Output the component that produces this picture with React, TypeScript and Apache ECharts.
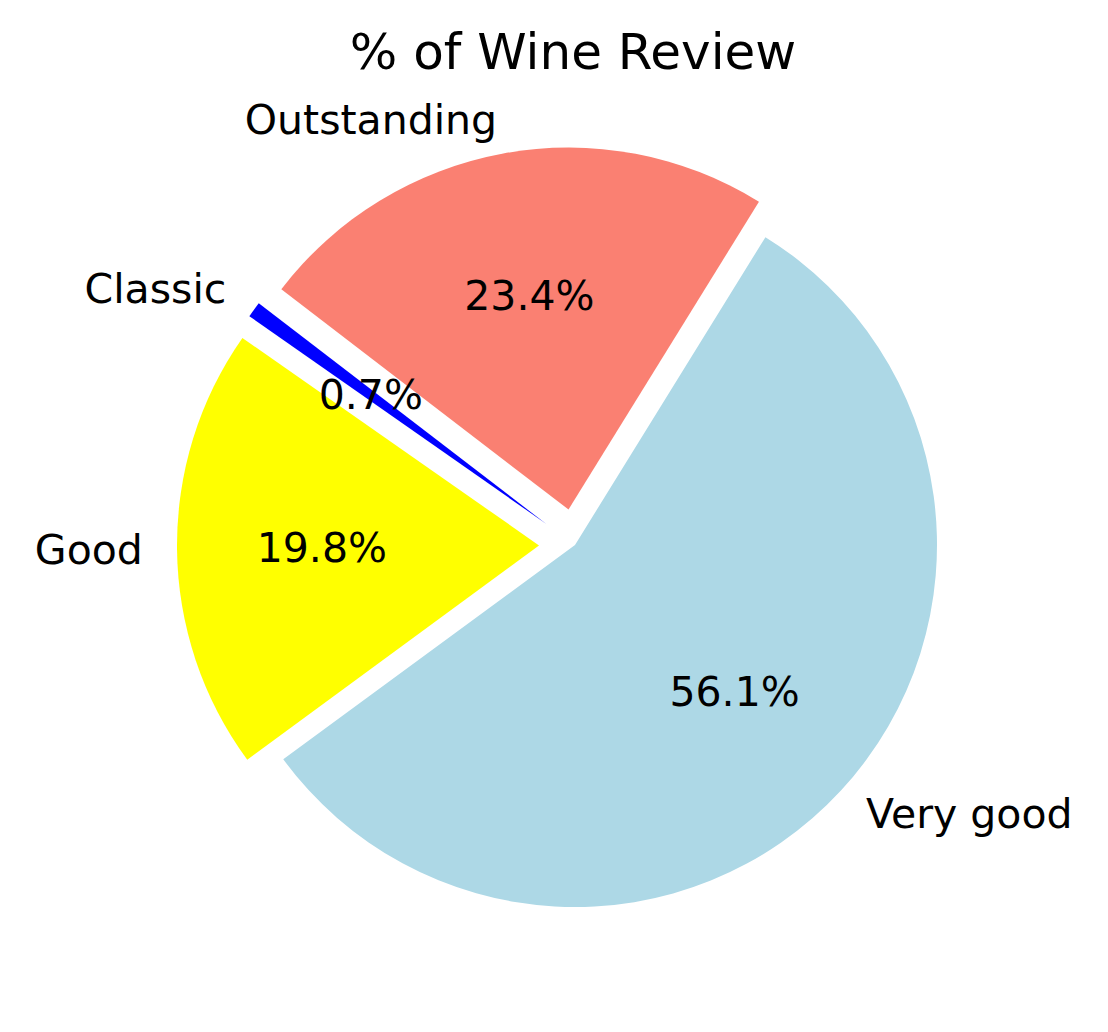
import React, { useEffect, useRef } from "react";
import * as echarts from "echarts";

const categories = ["Classic", "Good", "Very good", "Outstanding"];
const percents = [0.7, 19.8, 56.1, 23.4];
const colors = ["#0000FF", "#FFFF00", "#ADD8E6", "#FA8072"];
const exploded = [true, true, false, true];
const titleText = "% of Wine Review";

const CX = 575;
const CY = 545;
const R = 362;
const OFFSET = 36;
const FONT = "DejaVu Sans";

export default function App() {
  const ref = useRef<HTMLDivElement>(null);
  useEffect(() => {
    if (!ref.current) return;
    const chart = echarts.init(ref.current, undefined, { renderer: "svg" });
    const baseData = categories.map((name, i) => ({
      name,
      value: percents[i],
      selected: exploded[i],
      itemStyle: { color: colors[i] },
    }));
    const transData = categories.map((name, i) => ({
      name,
      value: percents[i],
      selected: exploded[i],
      itemStyle: { color: "rgba(0,0,0,0)" },
    }));
    const innerR0 = 2 * (0.6 * R - 3) - R;
    chart.setOption({
      animation: false,
      backgroundColor: "#ffffff",
      title: {
        text: titleText,
        left: 568,
        top: 22,
        textAlign: "center",
        textStyle: { fontFamily: FONT, fontSize: 50, fontWeight: "normal", color: "#000" },
      },
      series: [
        {
          type: "pie",
          center: [CX, CY],
          radius: R,
          startAngle: 142.5,
          clockwise: false,
          selectedMode: "multiple",
          selectedOffset: OFFSET,
          avoidLabelOverlap: false,
          silent: true,
          label: {
            show: true,
            position: "outside",
            formatter: "{b}",
            fontFamily: FONT,
            fontSize: 41,
            color: "#000",
            distanceToLabelLine: 0,
          },
          labelLine: { show: false, length: 0.1 * R - 2, length2: 0 },
          emphasis: { disabled: true },
          data: baseData,
        },
        {
          type: "pie",
          center: [CX, CY],
          radius: [innerR0, R],
          startAngle: 142.5,
          clockwise: false,
          selectedMode: "multiple",
          selectedOffset: OFFSET,
          avoidLabelOverlap: false,
          silent: true,
          label: {
            show: true,
            position: "inner",
            formatter: (p: any) => p.value.toFixed(1) + "%",
            fontFamily: FONT,
            fontSize: 41,
            color: "#000",
          },
          labelLine: { show: false },
          emphasis: { disabled: true },
          data: transData,
        },
      ],
    });
    return () => chart.dispose();
  }, []);
  return (
    <div
      ref={ref}
      style={{ position: "absolute", left: 0, top: 0, width: 1108, height: 1032 }}
    />
  );
}
